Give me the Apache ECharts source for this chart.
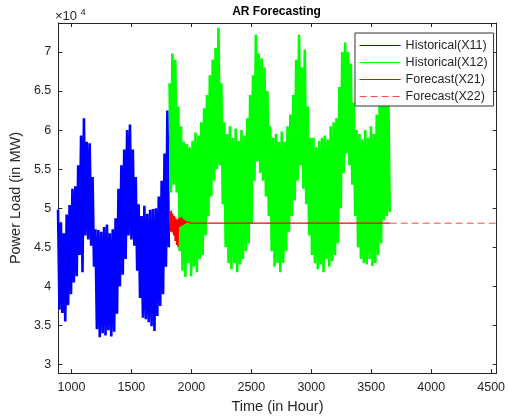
<!DOCTYPE html>
<html>
<head>
<meta charset="utf-8">
<script src="https://cdn.jsdelivr.net/npm/echarts@6/dist/echarts.min.js"></script>
<style>
html, body { margin: 0; padding: 0; background: #fff; }
#chart { width: 508px; height: 419px; }
</style>
</head>
<body>
<div id="chart"></div>
<script>
// hourly load read off the picture as one peak / trough pair per day
// (peak at the listed hour, trough 12 h later)
const blueDay = [888, 912, 936, 960, 984, 1008, 1032, 1056, 1080, 1104, 1128, 1152, 1176, 1200, 1224, 1248, 1272, 1296, 1320, 1344,
    1368, 1392, 1416, 1440, 1464, 1488, 1512, 1536, 1560, 1584, 1608, 1632, 1656, 1680, 1704, 1728, 1752, 1776, 1800]
const blueHigh = [49800, 48200, 46800, 49200, 50400, 52500, 52800, 55500, 59300, 61500, 58500, 58300, 54000, 47300, 47200, 47000, 47600, 47900, 46800, 47300,
    48700, 52500, 55500, 57500, 60000, 60700, 57500, 54000, 50500, 49000, 50300, 49300, 49800, 49900, 50000, 51500, 53500, 57000, 62500]
const blueLow = [37000, 36600, 35500, 37600, 39000, 40500, 41300, 44000, 41800, 46500, 46000, 45200, 42500, 34500, 33500, 34000, 33700, 34400, 33600, 34200,
    36500, 40000, 41500, 43500, 46500, 46000, 45200, 42000, 38500, 36000, 35800, 35400, 34900, 34300, 36200, 37500, 39000, 42500, 45000]

const greenDay = [1818, 1842, 1866, 1890, 1914, 1938, 1962, 1986, 2010, 2034, 2058, 2082, 2106, 2130, 2154, 2178, 2202, 2226, 2250, 2274,
    2298, 2322, 2346, 2370, 2394, 2418, 2442, 2466, 2490, 2514, 2538, 2562, 2586, 2610, 2634, 2658, 2682, 2706, 2730, 2754,
    2778, 2802, 2826, 2850, 2874, 2898, 2922, 2946, 2970, 2994, 3018, 3042, 3066, 3090, 3114, 3138, 3162, 3186, 3210, 3234,
    3258, 3282, 3306, 3330, 3354, 3378, 3402, 3426, 3450, 3474, 3498, 3522, 3546, 3570, 3594, 3618, 3642]
const greenHigh = [66000, 69800, 69000, 63000, 60500, 58500, 58200, 57800, 58600, 59700, 59300, 61000, 62800, 64500, 67000, 69000, 70500, 73100, 66000, 61000,
    59500, 60500, 59000, 60200, 58600, 60000, 59300, 61500, 64500, 67000, 72200, 69800, 69200, 68000, 65000, 60500, 59000, 59500, 58500, 59800,
    58500, 60500, 62000, 64500, 69000, 72200, 68000, 70300, 63000, 59000, 59000, 57800, 58600, 59000, 59300, 58800, 60500, 61000, 61500, 65500,
    70000, 71200, 70000, 68500, 63500, 60000, 59500, 58800, 60000, 59000, 60500, 59500, 62000, 64000, 65500, 66500, 65000]
const greenLow = [52000, 53000, 52000, 44500, 42000, 41200, 43000, 41300, 42500, 41800, 43500, 44000, 46500, 49000, 51500, 53500, 55000, 55500, 50500, 45000,
    43000, 42200, 43000, 41800, 42800, 43500, 44500, 45500, 48000, 53500, 56000, 54500, 53500, 51500, 49000, 44500, 42500, 43000, 41800, 43000,
    44500, 47000, 49000, 51000, 53500, 55500, 52500, 50500, 46500, 44000, 43000, 42200, 42800, 41800, 43500, 42500, 43200, 44000, 45500, 50000,
    54500, 57000, 55500, 53000, 49000, 45000, 43500, 43000, 42800, 43500, 42600, 43000, 44000, 45500, 48500, 49000, 49500]

// AR forecast: settling oscillation, then flat
const redHour = [1818, 1822, 1828, 1834, 1840, 1846, 1852, 1858, 1864, 1870, 1876, 1882, 1888, 1894, 1900, 1906, 1912, 1918, 1924, 1930,
    1936, 1942, 1948, 1956, 1966, 1980, 2000, 3654]
const redLoad = [48000, 49600, 47000, 49700, 46900, 49300, 46500, 49000, 45800, 48800, 45300, 48600, 45000, 48700, 47600, 48800, 47700, 48900, 47800, 48600,
    47900, 48500, 48000, 48300, 48050, 48150, 48080, 48080]
const dashHour = [3654, 4560]
const dashLoad = [48080, 48080]

const xMin = 890, xMax = 4546
const yMin = 28900, yMax = 73700

function dailyPairs(days, high, low) {
    const out = []
    days.forEach((d, i) => {
        out.push([d, high[i]])
        out.push([d + 12, low[i]])
    })
    return out
}
const zip = (a, b) => a.map((v, i) => [v, b[i]])

const FONT = '"Liberation Sans", Arial, Helvetica, sans-serif'
const AX = '#262626'

const axisCommon = {
    type: 'value',
    axisLine: { show: true, onZero: false, lineStyle: { color: AX, width: 1 } },
    axisTick: { show: true, inside: true, length: 4, lineStyle: { color: AX } },
    splitLine: { show: false },
}

const chart = echarts.init(document.getElementById('chart'), null, { renderer: 'canvas' })
const option = {
    animation: false,
    textStyle: { fontFamily: FONT },
    grid: { left: 54, right: 9, top: 23, bottom: 45 },
    legend: {
        orient: 'vertical',
        left: 355,
        top: 33,
        padding: [5, 6, 2, 4],
        itemWidth: 41,
        itemHeight: 12,
        itemGap: 2,
        backgroundColor: '#fff',
        borderColor: '#333',
        borderWidth: 1,
        // series line only, no marker in the middle
        itemStyle: { opacity: 0 },
        lineStyle: { width: 1.2 },
        textStyle: { fontFamily: FONT, fontSize: 12.5, color: AX, lineHeight: 15 },
        data: ['Historical(X11)', 'Historical(X12)', 'Forecast(X21)', 'Forecast(X22)'],
    },
    xAxis: [
        {
            ...axisCommon,
            position: 'bottom',
            min: xMin, max: xMax, splitNumber: 7,
            name: 'Time (in Hour)',
            nameLocation: 'middle',
            nameGap: 18,
            nameTextStyle: { fontFamily: FONT, fontSize: 14.5, color: AX },
            axisLabel: {
                show: true, margin: 8, fontFamily: FONT, fontSize: 12.5, color: AX,
                showMinLabel: false, showMaxLabel: false,
                formatter: v => String(v),
            },
        },
        {
            ...axisCommon,
            position: 'top',
            min: xMin, max: xMax, splitNumber: 7,
            axisLabel: { show: false },
        },
    ],
    yAxis: [
        {
            ...axisCommon,
            position: 'left',
            min: yMin, max: yMax, splitNumber: 9,
            name: 'Power Load (in MW)',
            nameLocation: 'middle',
            nameGap: 26,
            nameTextStyle: { fontFamily: FONT, fontSize: 14.5, color: AX },
            axisLabel: {
                show: true, margin: 7, fontFamily: FONT, fontSize: 12.5, color: AX,
                showMinLabel: false, showMaxLabel: false,
                formatter: v => String(v / 10000),
            },
        },
        {
            ...axisCommon,
            position: 'right',
            min: yMin, max: yMax, splitNumber: 9,
            axisLabel: { show: false },
        },
    ],
    graphic: [
        {
            type: 'text', x: 276.5, y: 12,
            style: { text: 'AR Forecasting', textAlign: 'center', verticalAlign: 'middle', fontFamily: FONT, fontSize: 12, fontWeight: 'bold', fill: '#000' },
        },
        {
            type: 'text', x: 55, y: 16.5,
            style: { text: '×10', textAlign: 'left', verticalAlign: 'middle', fontFamily: FONT, fontSize: 13, fill: AX },
        },
        {
            type: 'text', x: 80.5, y: 12.5,
            style: { text: '4', textAlign: 'left', verticalAlign: 'middle', fontFamily: FONT, fontSize: 9.5, fill: AX },
        },
    ],
    series: [
        {
            name: 'Historical(X11)', type: 'line', symbol: 'none',
            lineStyle: { color: '#0000ff', width: 2.6, join: 'bevel' }, itemStyle: { color: '#0000ff' },
            data: dailyPairs(blueDay, blueHigh, blueLow),
        },
        {
            name: 'Historical(X12)', type: 'line', symbol: 'none',
            lineStyle: { color: '#00ff00', width: 2.6, join: 'bevel' }, itemStyle: { color: '#00ff00' },
            data: dailyPairs(greenDay, greenHigh, greenLow),
        },
        {
            name: 'Forecast(X21)', type: 'line', symbol: 'none',
            lineStyle: { color: '#ff0000', width: 1.3 }, itemStyle: { color: '#ff0000' },
            data: zip(redHour, redLoad),
        },
        {
            name: 'Forecast(X22)', type: 'line', symbol: 'none',
            lineStyle: { color: '#ff4a4a', width: 1, type: [7, 4] }, itemStyle: { color: '#ff4a4a' },
            data: zip(dashHour, dashLoad),
        },
    ],
}
chart.setOption(option)
</script>
</body>
</html>
